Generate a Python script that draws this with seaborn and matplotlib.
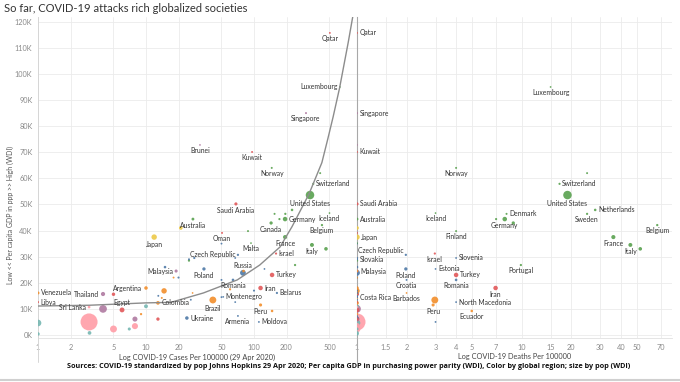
import numpy as np
import pandas as pd
import matplotlib.pyplot as plt
import seaborn as sns
from matplotlib.lines import Line2D

sns.set_theme(style="white")
plt.rcParams['font.family'] = ['Lato', 'DejaVu Sans']

# ---- data ----
countries = [
    "Qatar", "Luxembourg", "Singapore", "Brunei", "Kuwait", "Norway", "Ireland",
    "Switzerland", "United States", "Saudi Arabia", "Netherlands", "Sweden", "Denmark",
    "Iceland", "Germany", "Australia", "Canada", "Austria", "Belgium", "Finland",
    "Oman", "France", "Japan", "Malta", "Italy", "Spain", "Czech Republic", "Israel",
    "Slovakia", "Slovenia", "Portugal", "Estonia", "Poland", "Malaysia", "Russia",
    "Turkey", "Croatia", "Romania", "Iran", "Argentina", "Mexico", "Belarus",
    "Barbados", "Thailand", "Venezuela", "Montenegro", "Costa Rica", "Brazil", "Libya",
    "North Macedonia", "Colombia", "Egypt", "Peru", "Sri Lanka", "Indonesia", "Ecuador",
    "Philippines", "Ukraine", "Armenia", "Moldova", "India", "Pakistan", "Bangladesh",
    "Nigeria", "Uganda", "Kenya", "Ghana", "South Africa", "Algeria", "Iraq",
    "Korea", "Hungary", "Greece", "Lithuania", "Kazakhstan", "Serbia", "Bulgaria",
    "Dominican Republic", "Chile", "Uruguay", "Bolivia", "Georgia", "Bosnia", "Albania",
]
cases = [
    504, 625, 303, 31.6, 96, 146, 410,
    354, 330, 68, 225, 195, 155,
    500, 194, 27.2, 144, 172, 426, 88,
    50.6, 194, 11.9, 93.8, 344, 464, 71, 160,
    25, 67, 240, 125, 34.4, 19.0, 79,
    147, 50, 63.9, 115, 10, 14.7, 163,
    27, 4.0, 1.0, 51.9, 14, 41.6, 1.0,
    67, 12.9, 6.0, 115, 2.97, 4.0, 147,
    7.9, 23.9, 71, 111, 2.97, 5.0, 7.9,
    1.0, 1.0, 3.0, 7.0, 10, 5.0, 12.9,
    21, 28, 25, 50, 15, 100, 20,
    60, 80, 18, 9, 13, 50, 26,
]
deaths = [
    1, 15, 1, 1, 1, 4.0, 25,
    17, 19, 1, 28, 25, 8.1,
    3.0, 7.9, 1, 8.9, 7.0, 66.7, 4.0,
    1, 36.1, 1, 1, 45.8, 52.6, 1.98, 2.97,
    1, 4.0, 9.9, 3.0, 1.98, 1, 1,
    4.0, 2.0, 4.0, 6.95, 1, 1, 1,
    2.0, 1, 1, 1, 1, 2.97, 1,
    4.0, 1, 1, 2.9, 1, 1, 4.98,
    1, 1, 1, 3.0, 1, 1, 1,
    1, 1, 1, 1, 1, 1, 1,
    1, 1, 1, 1, 1, 1, 1,
    1, 1, 1, 1, 1, 1, 1,
]
gdp_k = [
    115.7, 95, 85, 72.8, 70.1, 64, 62,
    57.9, 53.6, 50.2, 47.9, 46.4, 46.4,
    46.7, 44.4, 44.4, 42.9, 44.4, 42.1, 39.8,
    39.1, 37.5, 37.5, 35.2, 34.5, 33.0, 30.7, 31.2,
    29.0, 29.5, 26.8, 25.3, 25.3, 24.5, 23.8,
    23.0, 21.1, 21.1, 18.0, 18.0, 16.9, 16.1,
    16.1, 15.7, 16.1, 14.6, 14.2, 13.4, 12.6,
    12.6, 12.3, 9.6, 11.5, 10.7, 10.0, 9.2,
    6.1, 6.5, 7.3, 5.0, 5.0, 2.3, 3.4,
    4.6, 0.4, 0.8, 2.3, 11.0, 15.6, 6.1,
    41, 29.5, 28.5, 35, 26, 17, 22,
    17.5, 24.5, 22, 8, 15, 14.5, 13.5,
]
pop_m = [
    2.8, 0.6, 5.6, 0.43, 4.1, 5.3, 4.9,
    8.5, 327, 34, 17, 10, 5.8,
    0.35, 83, 25, 37, 8.9, 11.4, 5.5,
    4.8, 67, 126, 0.5, 60, 47, 10.6, 8.9,
    5.4, 2.1, 10.3, 1.3, 38, 32, 144,
    82, 4.1, 19, 82, 45, 126, 9.5,
    0.29, 69, 29, 0.6, 5.0, 209, 6.7,
    2.1, 50, 98, 32, 22, 268, 17,
    107, 45, 3.0, 2.7, 1353, 212, 161,
    196, 43, 51, 30, 58, 42, 39,
    51, 9.8, 10.7, 2.8, 18, 7.0, 7.0,
    10.7, 19, 3.5, 11, 3.7, 3.3, 2.9,
]
region = [
    "MENA", "West", "SE Asia", "SE Asia", "MENA", "West", "West",
    "West", "West", "MENA", "West", "West", "West",
    "West", "West", "West", "West", "West", "West", "West",
    "MENA", "West", "East Asia", "West", "West", "West", "East Europe", "MENA",
    "East Europe", "East Europe", "West", "East Europe", "East Europe", "SE Asia", "East Europe",
    "MENA", "East Europe", "East Europe", "MENA", "Latin America", "Latin America", "East Europe",
    "Latin America", "SE Asia", "Latin America", "East Europe", "Latin America", "Latin America", "MENA",
    "East Europe", "Latin America", "MENA", "Latin America", "South Asia", "SE Asia", "Latin America",
    "SE Asia", "East Europe", "East Europe", "East Europe", "South Asia", "South Asia", "South Asia",
    "Africa", "Africa", "Africa", "Africa", "Africa", "MENA", "MENA",
    "East Asia", "East Europe", "West", "East Europe", "East Europe", "East Europe", "East Europe",
    "Latin America", "Latin America", "Latin America", "Latin America", "East Europe", "East Europe", "East Europe",
]

# trend line points
trend_cases = [1, 3, 10, 17, 34, 70, 113, 174, 225, 323, 425, 485, 540, 620, 745, 830]
trend_gdp = [11.1, 11.4, 12.3, 12.5, 16.1, 21.1, 26.8, 33.7, 41.5, 54, 66, 75.5, 83.5, 94.6, 112, 123]

cases_ticks = [1, 2, 5, 10, 20, 50, 100, 200, 500]
deaths_ticks = [1, 1.5, 2, 3, 4, 5, 7, 10, 15, 20, 30, 40, 50, 70]
gdp_ticks = list(range(0, 130, 10))

# label placement: r=right, l=left, b=below, a=above, al=above-left
left_labels = {
    "Qatar": "b", "Luxembourg": "l", "Singapore": "b", "Brunei": "b", "Kuwait": "b",
    "Norway": "b", "Switzerland": "r", "United States": "b", "Saudi Arabia": "b",
    "Germany": "r", "Iceland": "b", "Canada": "b", "Belgium": "b", "Australia": "b",
    "France": "b", "Italy": "b", "Japan": "b", "Oman": "b", "Malta": "b",
    "Czech Republic": "l", "Israel": "r", "Russia": "a", "Turkey": "r", "Poland": "b",
    "Malaysia": "l", "Romania": "b", "Iran": "r", "Belarus": "r", "Montenegro": "r",
    "Brazil": "b", "Peru": "b", "Ukraine": "r", "Armenia": "b", "Moldova": "r",
    "Colombia": "r", "Argentina": "l", "Egypt": "a", "Sri Lanka": "l", "Thailand": "l",
    "Venezuela": "r", "Libya": "r",
}
right_labels = {
    "Qatar": "r", "Singapore": "r", "Kuwait": "r", "Saudi Arabia": "r", "Australia": "r",
    "Japan": "r", "Malaysia": "r", "Slovakia": "r", "Costa Rica": "r",
    "Luxembourg": "b", "Norway": "b", "Switzerland": "r", "United States": "b",
    "Netherlands": "r", "Sweden": "b", "Denmark": "r", "Germany": "b", "Iceland": "b",
    "Finland": "b", "Belgium": "b", "France": "b", "Italy": "b", "Czech Republic": "al",
    "Israel": "b", "Slovenia": "r", "Estonia": "r", "Turkey": "r", "Poland": "b",
    "Croatia": "b", "Romania": "b", "Portugal": "b", "Iran": "b", "Barbados": "b",
    "Peru": "b", "North Macedonia": "r", "Ecuador": "b",
}

palette = {
    "West": "#59a14f", "East Europe": "#4e79a7", "MENA": "#e15759",
    "Latin America": "#f28e2b", "East Asia": "#edc948", "SE Asia": "#b07aa1",
    "South Asia": "#ff9da7", "Africa": "#76b7b2",
}

df = pd.DataFrame({"country": countries, "cases": cases, "deaths": deaths,
                   "gdp": gdp_k, "pop": pop_m, "region": region})
df = df.sort_values("pop", ascending=False)

SMIN, SMAX, PMAX = 1.5, 150, 1350


def size_of(p):
    return SMIN + min(p / PMAX, 1) * (SMAX - SMIN)


fig = plt.figure(figsize=(6.8, 3.82), dpi=100)
W, H = 680, 382
bottom = 1 - 338 / H
height = (338 - 17) / H
ax1 = fig.add_axes([38 / W, bottom, (357 - 38) / W, height])
ax2 = fig.add_axes([357 / W, bottom, (672 - 357) / W, height])

grid_c = "#ebebeb"
tick_c = "#8a8a8a"
lab_c = "#333333"


def draw_panel(ax, xcol, xlim, xticks, labels):
    ax.set_xscale("log")
    for t in xticks:
        ax.axvline(t, color=grid_c, lw=0.6, zorder=0)
    for t in gdp_ticks:
        ax.axhline(t, color=grid_c, lw=0.6, zorder=0)
    sns.scatterplot(data=df, x=xcol, y="gdp", hue="region", palette=palette,
                    size="pop", sizes=(SMIN, SMAX), size_norm=(0, PMAX),
                    edgecolor="none", alpha=0.9, legend=False, ax=ax, zorder=3)
    ax.set_xlim(*xlim)
    ax.set_ylim(-1.15, 121.8)
    ax.set_xticks(xticks)
    ax.set_xticklabels([f"{t:g}" for t in xticks])
    ax.minorticks_off()
    ax.tick_params(axis="both", length=0, labelsize=5.3, labelcolor=tick_c, pad=4)
    ax.set_xlabel("")
    ax.set_ylabel("")
    for s in ["top", "right"]:
        ax.spines[s].set_visible(False)
    ax.spines["bottom"].set_color("#e0e0e0")
    ax.spines["bottom"].set_linewidth(0.6)

    sub = df.set_index("country")
    for name, pos in labels.items():
        row = sub.loc[name]
        r = np.sqrt(size_of(row["pop"])) / 2
        if pos == "r":
            off, ha, va = (r + 1.2, 0), "left", "center"
        elif pos == "l":
            off, ha, va = (-r - 1.2, 0), "right", "center"
        elif pos == "al":
            off, ha, va = (-r - 1.0, 0.3), "right", "bottom"
        elif pos == "a":
            off, ha, va = (0, r + 0.8), "center", "bottom"
        else:
            off, ha, va = (0, -r - 0.8), "center", "top"
        ax.annotate(name, (row[xcol], row["gdp"]), xytext=off, textcoords="offset points",
                    ha=ha, va=va, fontsize=4.9, color=lab_c, zorder=5)


draw_panel(ax1, "cases", (1, 899), cases_ticks, left_labels)
draw_panel(ax2, "deaths", (1, 82), deaths_ticks, right_labels)

ax1.plot(trend_cases, trend_gdp, color="#8c8c8c", lw=1.0, zorder=4)

ax1.set_yticks(gdp_ticks)
ax1.set_yticklabels([f"{t}K" for t in gdp_ticks])
ax1.spines["left"].set_color("#d6d6d6")
ax1.spines["left"].set_linewidth(0.7)
ax2.set_yticks(gdp_ticks)
ax2.set_yticklabels([])
ax2.spines["left"].set_color("#a8a8a8")
ax2.spines["left"].set_linewidth(0.8)

# pane borders running below the axes
fig.add_artist(Line2D([38 / W, 38 / W], [1 - 338 / H, 1 - 362 / H], color="#d6d6d6", lw=0.7))
fig.add_artist(Line2D([357 / W, 357 / W], [1 - 338 / H, 1 - 362 / H], color="#a8a8a8", lw=0.8))
fig.add_artist(Line2D([0, 1], [1 - 380 / H, 1 - 380 / H], color="#d0d0d0", lw=1.5))

fig.text(4 / W, 1 - 9 / H, "So far, COVID-19 attacks rich globalized societies",
         fontsize=8.0, color="#333333", va="center", ha="left")
fig.text(10 / W, 1 - 215 / H, "Low << Per capita GDP in ppp >> High (WDI)",
         rotation=90, fontsize=5.0, color="#555555", ha="center", va="center")
fig.text(197 / W, 1 - 357 / H, "Log COVID-19 Cases Per 100000 (29 Apr 2020)",
         fontsize=5.3, color="#444444", ha="center", va="center")
fig.text(515 / W, 1 - 357 / H, "Log COVID-19 Deaths Per 100000",
         fontsize=5.3, color="#444444", ha="center", va="center")
fig.text(349 / W, 1 - 367 / H,
         "Sources: COVID-19 standardized by pop Johns Hopkins 29 Apr 2020; Per capita GDP in "
         "purchasing power parity (WDI), Color by global region; size by pop (WDI)",
         fontsize=5.2, fontweight="bold", color="#111111", ha="center", va="center",
         family=["Open Sans", "DejaVu Sans"])

fig.savefig("out.png", dpi=100)
